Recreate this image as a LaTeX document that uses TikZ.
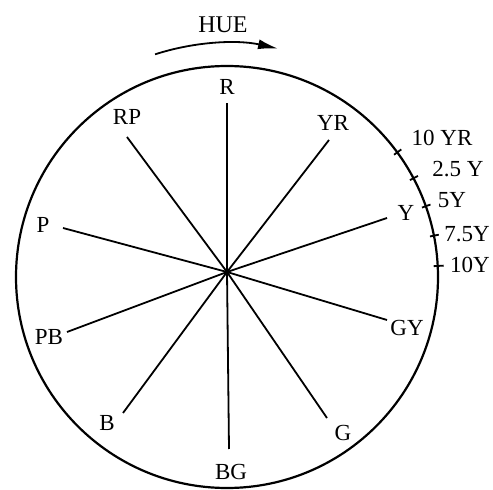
\documentclass[tikz,border=0pt]{standalone}
\usepackage{fontspec}
\setmainfont{Liberation Serif}
\usetikzlibrary{arrows.meta}
\tikzset{
  huelabel/.style={font=\fontsize{23}{25}\selectfont, inner sep=0pt},
  spoke/.style={line width=1.8pt},
  rim/.style={line width=2.2pt},
}
\begin{document}
\begin{tikzpicture}[x=1pt,y=1pt]
\useasboundingbox (0,0) rectangle (493,490);
\coordinate (C) at (227,213);
\coordinate (O) at (227,218);
\draw[rim] (C) circle[radius=211];
% hue labels
\node[huelabel] (R) at (227,403) {R};
\node[huelabel] (YR) at (333,367) {YR};
\node[huelabel] (Y) at (406,277) {Y};
\node[huelabel] (GY) at (407,162) {GY};
\node[huelabel] (G) at (343,57) {G};
\node[huelabel] (BG) at (231,18) {BG};
\node[huelabel] (B) at (107,67) {B};
\node[huelabel] (PB) at (49,153) {PB};
\node[huelabel] (P) at (43,265) {P};
\node[huelabel] (RP) at (127,373) {RP};
% spoke ends
\coordinate (eR) at (227,387);
\coordinate (eYR) at (329,350);
\coordinate (eY) at (387,272);
\coordinate (eGY) at (387,170);
\coordinate (eG) at (327,72);
\coordinate (eBG) at (229,41);
\coordinate (eB) at (123,77);
\coordinate (ePB) at (67,158);
\coordinate (eP) at (63,262);
\coordinate (eRP) at (127,353);
\draw[spoke] (O)--(eR);
\draw[spoke] (O)--(eYR);
\draw[spoke] (O)--(eY);
\draw[spoke] (O)--(eGY);
\draw[spoke] (O)--(eG);
\draw[spoke] (O)--(eBG);
\draw[spoke] (O)--(eB);
\draw[spoke] (O)--(ePB);
\draw[spoke] (O)--(eP);
\draw[spoke] (O)--(eRP);
% ticks on the rim
\draw[spoke,shift={(C)}] (36.2:207)--(36.2:216);
\draw[spoke,shift={(C)}] (27.9:207)--(27.9:216);
\draw[spoke,shift={(C)}] (19.6:207)--(19.6:216);
\draw[spoke,shift={(C)}] (11.3:207)--(11.3:216);
\draw[spoke,shift={(C)}] (3.0:207)--(3.0:217);
\node[huelabel] (t10YR) at (442,352) {10 YR};
\node[huelabel] (t25Y) at (458,321) {2.5 Y};
\node[huelabel] (t5Y) at (452,290) {5Y};
\node[huelabel] (t75Y) at (467,256) {7.5Y};
\node[huelabel] (t10Y) at (470,225) {10Y};
% hue direction
\node[huelabel, font=\fontsize{24}{26}\selectfont] (hue) at (223,465) {HUE};
\draw[spoke,-{Latex[length=20pt,width=10pt]}] ([shift={(107.9:234)}]C) arc[start angle=107.9, end angle=77.4, radius=234];
\end{tikzpicture}
\end{document}
